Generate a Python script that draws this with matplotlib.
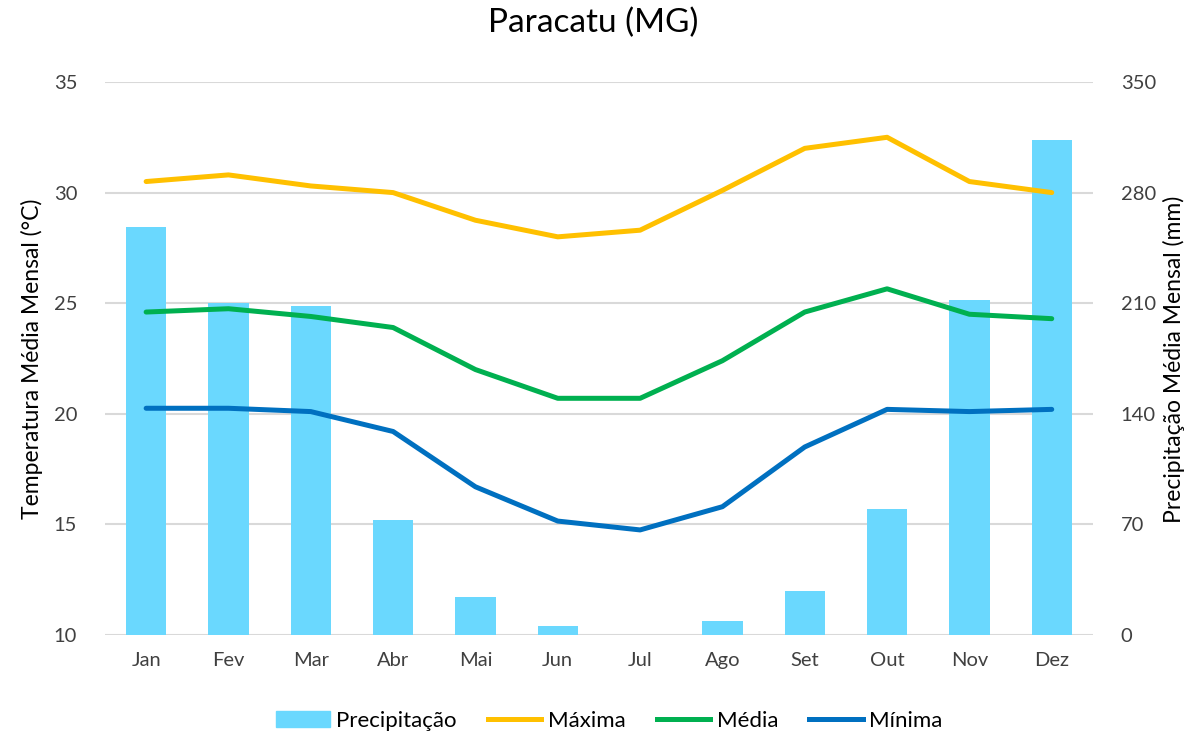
import matplotlib.pyplot as plt
from matplotlib.patches import Patch
from matplotlib.lines import Line2D

plt.rcParams['font.family'] = ['Lato', 'DejaVu Sans']

meses = ["Jan", "Fev", "Mar", "Abr", "Mai", "Jun", "Jul", "Ago", "Set", "Out", "Nov", "Dez"]
precipitacao = [258, 210, 208, 73, 24, 6, 0, 9, 28, 80, 212, 313]
maxima = [30.5, 30.8, 30.3, 30.0, 28.75, 28.0, 28.3, 30.1, 32.0, 32.5, 30.5, 30.0]
media = [24.6, 24.75, 24.4, 23.9, 22.0, 20.7, 20.7, 22.4, 24.6, 25.65, 24.5, 24.3]
minima = [20.25, 20.25, 20.1, 19.2, 16.7, 15.15, 14.75, 15.8, 18.5, 20.2, 20.1, 20.2]

temp_ticks = [10, 15, 20, 25, 30, 35]
prec_ticks = [0, 70, 140, 210, 280, 350]

c_bar = "#6AD8FE"
c_max = "#FFC000"
c_med = "#00B050"
c_min = "#0070C0"

fig = plt.figure(figsize=(11.86, 7.4), dpi=100)
ax = fig.add_axes([0.0885, 0.1419, 0.833, 0.7473])
ax2 = ax.twinx()

x = list(range(len(meses)))
ax2.bar(x, precipitacao, width=0.49, color=c_bar, zorder=1)
ax2.set_ylim(0, 350)
ax2.set_yticks(prec_ticks)

ax.set_zorder(ax2.get_zorder() + 1)
ax.patch.set_visible(False)
ax.plot(x, maxima, color=c_max, lw=3.6, solid_capstyle="round", solid_joinstyle="round")
ax.plot(x, media, color=c_med, lw=3.6, solid_capstyle="round", solid_joinstyle="round")
ax.plot(x, minima, color=c_min, lw=3.6, solid_capstyle="round", solid_joinstyle="round")
ax.set_ylim(10, 35)
ax.set_yticks(temp_ticks)
ax.set_xlim(-0.5, 11.5)
ax.set_xticks(x)
ax.set_xticklabels(meses)

# gridlines drawn behind the bars, on the bar axis
for t in prec_ticks:
    ax2.axhline(t, color="#D9D9D9", lw=1.5, zorder=0)

for a in (ax, ax2):
    for s in a.spines.values():
        s.set_visible(False)
    a.tick_params(length=0, labelsize=14.5, colors="#404040")
ax.tick_params(axis="y", pad=20)
ax2.tick_params(axis="y", pad=20)
ax.tick_params(axis="x", pad=12)

ax.set_ylabel("Temperatura Média Mensal (°C)", fontsize=16.5, labelpad=8)
fig.text(0.999, 0.515, "Precipitação Média Mensal (mm)", rotation=90,
         fontsize=16.5, ha="right", va="center")

fig.suptitle("Paracatu (MG)", fontsize=24, y=0.99)

handles = [Patch(color=c_bar), Line2D([], [], color=c_max, lw=3.6),
           Line2D([], [], color=c_med, lw=3.6), Line2D([], [], color=c_min, lw=3.6)]
labels = ["Precipitação", "Máxima", "Média", "Mínima"]
fig.legend(handles, labels, loc="center", bbox_to_anchor=(0.514, 0.026), ncol=4,
           frameon=False, fontsize=16, handlelength=2.4, handletextpad=0.3,
           columnspacing=1.4)

fig.savefig("out.png", dpi=100)
